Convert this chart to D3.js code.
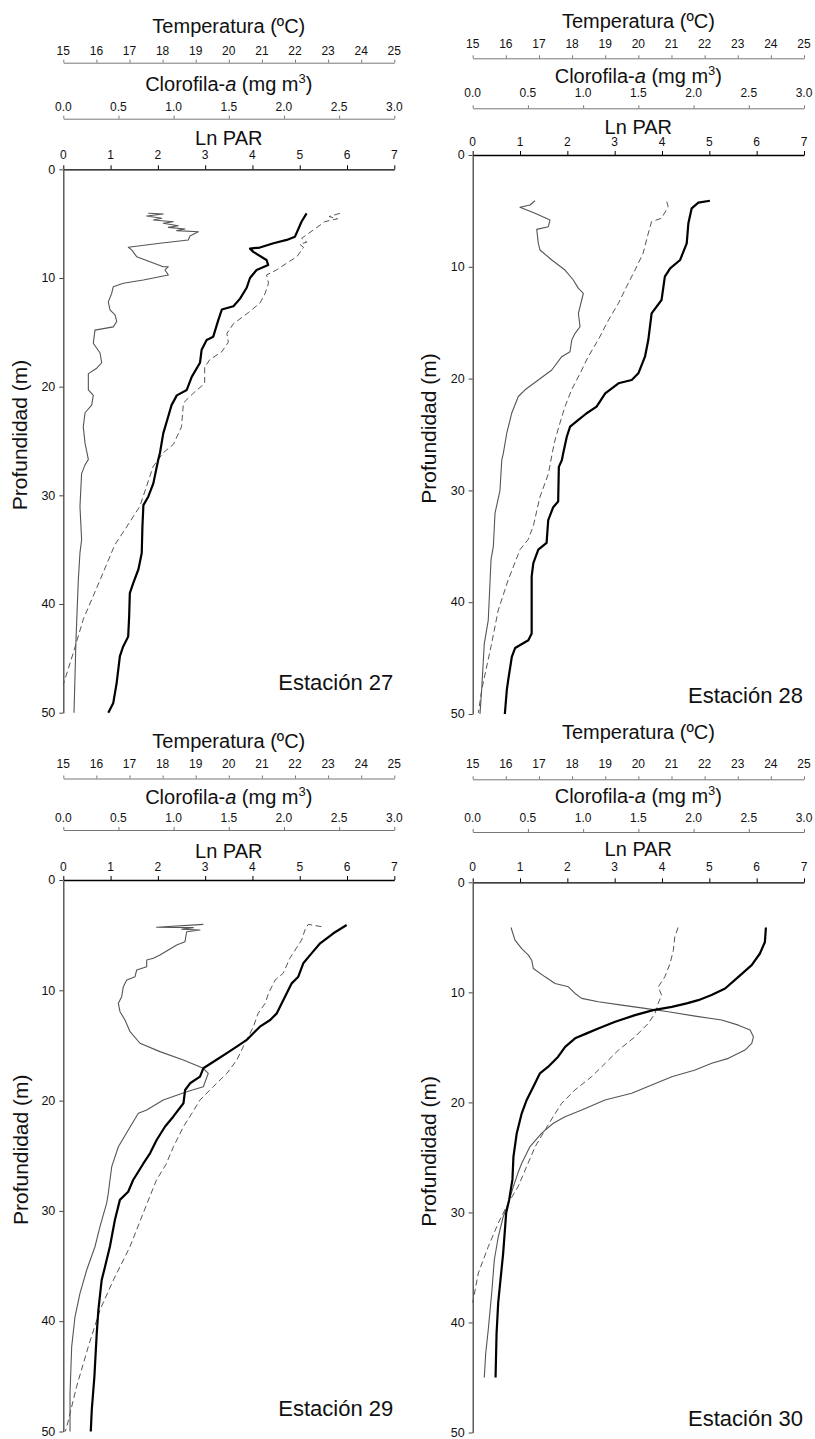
<!DOCTYPE html>
<html><head><meta charset="utf-8">
<script src="https://cdn.jsdelivr.net/npm/d3@7"></script>
<style>
body{margin:0;background:#fff}
svg{display:block}
text{font-family:"Liberation Sans",Arial,Helvetica,sans-serif;fill:#111}
</style>
</head><body><svg id="c" width="815" height="1439"></svg>
<script>
// ---------- tick labels ----------
const tempTicks = [15,16,17,18,19,20,21,22,23,24,25];
const chlTicks = [0,0.5,1,1.5,2,2.5,3];
const chlTickLabels = ["0.0","0.5","1.0","1.5","2.0","2.5","3.0"];
const parTicks = [0,1,2,3,4,5,6,7];
const depthTicks = [0,10,20,30,40,50];
const stationNames = ["Estación 27","Estación 28","Estación 29","Estación 30"];

// ---------- data: [value, depth m] ----------
const temp27 = [[22.35,4.05],[22.2,4.8],[22.0,6.2],[21.75,6.5],[21.35,6.8],[20.94,7.2],[20.64,7.3],[20.74,7.6],[21.14,8.35],[21.19,8.8],[20.84,9.26],[20.64,10.0],[20.54,10.9],[20.34,11.9],[20.14,12.6],[19.79,12.9],[19.68,13.9],[19.53,15.4],[19.33,15.7],[19.18,16.6],[19.13,17.8],[18.88,19.1],[18.73,20.3],[18.43,20.8],[18.27,21.7],[18.17,22.75],[18.02,24.3],[17.92,26.1],[17.87,26.7],[17.72,28.9],[17.57,30.1],[17.42,30.9],[17.39,32.9],[17.37,35.3],[17.27,36.8],[17.11,38.1],[17.01,39.0],[16.99,41.1],[16.96,43.0],[16.81,43.9],[16.71,44.8],[16.61,47.3],[16.51,49.1],[16.36,50.0]];
const chl27 = [[0.77,4.05],[0.906,4.11],[0.756,4.29],[0.892,4.51],[0.816,4.66],[0.997,4.82],[0.906,4.97],[1.042,5.19],[0.952,5.34],[1.103,5.49],[1.028,5.64],[1.224,5.74],[1.148,6.13],[1.133,6.5],[0.876,6.8],[0.589,7.17],[0.62,7.42],[0.665,8.04],[0.906,8.96],[0.952,8.96],[0.922,9.26],[0.952,9.72],[0.725,10.18],[0.544,10.49],[0.453,10.8],[0.439,11.4],[0.408,12.2],[0.423,12.94],[0.469,13.4],[0.484,14.0],[0.453,14.5],[0.287,14.8],[0.272,16.0],[0.333,16.9],[0.348,17.8],[0.303,18.3],[0.227,18.8],[0.227,20.3],[0.272,20.8],[0.257,21.7],[0.197,22.4],[0.181,23.7],[0.197,25.2],[0.227,26.7],[0.197,27.2],[0.166,28.0],[0.151,31.0],[0.166,34.1],[0.151,35.3],[0.136,37.8],[0.115,43.3],[0.097,50.0]];
const par27 = [[5.85,4.05],[5.62,4.35],[5.8,4.55],[5.53,4.82],[5.29,5.58],[5.04,6.35],[5.15,6.7],[5.0,6.9],[5.08,7.17],[4.94,8.04],[4.72,8.65],[4.51,9.26],[4.3,9.72],[4.34,10.49],[4.27,11.4],[4.16,12.3],[3.91,13.2],[3.6,14.2],[3.46,15.1],[3.49,15.9],[3.35,16.8],[3.1,17.5],[2.99,18.2],[2.99,19.7],[2.75,20.6],[2.54,21.5],[2.5,23.7],[2.33,25.3],[2.11,26.1],[1.9,27.35],[1.62,31.0],[1.34,32.9],[1.09,34.55],[0.776,37.8],[0.423,41.4],[0.211,44.5],[0.0,47.4]];

const temp28 = [[22.16,4.09],[21.81,4.26],[21.61,4.77],[21.51,6.11],[21.46,7.9],[21.26,9.39],[20.96,10.14],[20.8,10.88],[20.7,12.97],[20.4,14.16],[20.3,16.55],[20.2,18.04],[20.0,19.53],[19.8,20.12],[19.4,20.42],[19.0,21.32],[18.74,22.51],[18.44,23.1],[18.19,23.7],[17.94,24.3],[17.84,25.2],[17.73,26.7],[17.69,27.3],[17.6,27.9],[17.58,31.0],[17.43,31.5],[17.28,32.65],[17.23,34.7],[16.98,35.3],[16.83,36.5],[16.78,37.7],[16.78,42.8],[16.68,43.4],[16.28,44.1],[16.18,44.9],[16.07,47.0],[16.03,47.85],[15.97,50.0]];
const chl28 = [[0.564,4.09],[0.519,4.47],[0.428,4.68],[0.564,5.22],[0.7,5.81],[0.685,6.41],[0.58,6.65],[0.594,7.9],[0.61,8.5],[0.716,9.39],[0.836,10.29],[0.911,11.18],[0.957,11.93],[1.002,12.37],[0.987,12.97],[0.957,14.16],[0.972,15.36],[0.927,15.95],[0.897,16.55],[0.881,17.6],[0.806,18.04],[0.716,19.23],[0.594,20.12],[0.474,21.0],[0.413,21.6],[0.353,23.1],[0.308,24.9],[0.277,26.7],[0.263,27.3],[0.247,30.0],[0.202,32.05],[0.187,35.0],[0.166,36.2],[0.141,41.6],[0.105,43.7],[0.082,47.7],[0.066,50.0]];
const par28 = [[4.1,4.17],[4.13,4.62],[3.99,5.66],[3.78,5.96],[3.71,7.0],[3.6,8.8],[3.43,10.29],[3.25,11.78],[3.08,13.26],[2.87,14.76],[2.65,16.55],[2.44,18.04],[2.27,19.53],[2.09,21.0],[1.95,22.5],[1.82,24.3],[1.72,25.8],[1.6,28.5],[1.42,30.6],[1.28,33.2],[1.17,34.4],[1.0,35.3],[0.75,38.0],[0.54,40.7],[0.4,43.7],[0.19,47.85],[0.12,49.9]];

const temp29 = [[23.56,4.08],[23.16,4.83],[22.76,5.74],[22.5,6.65],[22.25,7.55],[22.1,8.77],[21.9,9.37],[21.75,10.27],[21.6,11.18],[21.45,12.09],[21.25,12.69],[20.94,13.3],[20.74,13.9],[20.54,14.5],[20.24,15.1],[19.94,15.7],[19.63,16.3],[19.23,17.07],[19.13,17.83],[18.83,18.43],[18.68,19.04],[18.63,20.24],[18.32,21.46],[18.07,22.37],[17.82,23.57],[17.62,24.78],[17.42,25.7],[17.11,27.2],[16.96,28.26],[16.71,29.0],[16.56,30.8],[16.41,33.2],[16.26,35.06],[16.16,36.26],[16.06,38.98],[16.01,41.1],[15.94,45.0],[15.86,48.05],[15.83,50.0]];
const chl29 = [[1.269,4.02],[0.846,4.29],[1.178,4.32],[1.073,4.47],[1.239,4.53],[1.118,4.69],[1.103,5.59],[1.028,5.89],[0.952,6.35],[0.876,6.8],[0.816,7.1],[0.756,7.25],[0.756,7.86],[0.665,8.16],[0.65,8.77],[0.575,9.07],[0.544,9.67],[0.529,10.58],[0.499,11.18],[0.514,11.94],[0.559,12.69],[0.605,13.75],[0.695,14.8],[0.876,15.56],[1.088,16.32],[1.269,17.07],[1.314,17.53],[1.269,18.74],[1.118,19.19],[0.906,19.95],[0.756,20.85],[0.68,21.15],[0.589,22.67],[0.499,24.18],[0.439,25.99],[0.423,27.2],[0.408,28.4],[0.393,29.3],[0.333,31.4],[0.287,33.25],[0.212,35.36],[0.151,37.47],[0.106,39.6],[0.076,42.3],[0.061,46.5],[0.061,50.0]];
const par29 = [[5.46,4.23],[5.18,4.02],[5.11,4.53],[5.04,5.44],[4.79,7.1],[4.65,8.46],[4.48,9.07],[4.34,10.27],[4.27,11.18],[4.12,12.09],[4.02,13.3],[3.84,14.8],[3.67,16.32],[3.46,17.53],[3.17,18.74],[2.89,19.95],[2.72,21.15],[2.54,22.37],[2.33,24.18],[2.17,25.8],[1.97,27.2],[1.69,30.2],[1.41,33.25],[1.06,36.26],[0.776,38.98],[0.529,42.3],[0.283,45.9],[0.072,49.6],[0.04,50.0]];

const temp30 = [[23.85,4.11],[23.82,5.42],[23.67,6.47],[23.42,7.53],[23.02,8.59],[22.62,9.65],[22.21,10.25],[21.81,10.71],[21.46,11.0],[21.01,11.32],[20.45,11.62],[19.9,12.07],[19.3,12.68],[18.79,13.28],[18.44,13.73],[18.09,14.18],[17.79,14.95],[17.58,15.85],[17.28,16.76],[17.03,17.36],[16.83,18.58],[16.63,19.78],[16.48,20.99],[16.33,22.8],[16.23,24.93],[16.2,27.0],[16.1,28.86],[16.01,30.06],[15.92,33.7],[15.82,36.7],[15.77,38.2],[15.72,41.0],[15.69,45.0]];
const chl30 = [[0.347,4.11],[0.383,5.26],[0.444,6.02],[0.504,6.62],[0.534,7.08],[0.549,7.83],[0.655,8.59],[0.746,9.19],[0.866,9.5],[0.927,10.1],[0.987,10.55],[1.138,10.86],[1.35,11.16],[1.561,11.46],[1.772,11.77],[2.014,12.16],[2.255,12.52],[2.406,12.98],[2.512,13.43],[2.542,14.04],[2.527,14.64],[2.466,15.25],[2.315,16.0],[2.165,16.45],[2.014,17.06],[1.803,17.67],[1.621,18.42],[1.44,19.17],[1.198,19.78],[0.987,20.69],[0.836,21.3],[0.73,21.9],[0.625,22.8],[0.519,24.02],[0.444,25.53],[0.41,26.4],[0.368,27.65],[0.323,29.16],[0.277,30.37],[0.232,32.19],[0.196,34.3],[0.172,37.32],[0.141,40.65],[0.118,42.77],[0.105,45.0]];
const par30 = [[4.34,4.11],[4.27,4.96],[4.24,6.17],[4.17,7.38],[4.06,8.59],[3.92,9.5],[3.99,10.25],[3.92,11.0],[3.85,11.92],[3.71,12.82],[3.43,14.04],[3.08,15.25],[2.8,16.45],[2.51,17.67],[2.16,18.87],[1.88,20.08],[1.7,21.3],[1.53,22.5],[1.32,24.02],[1.14,25.83],[0.96,27.65],[0.75,29.16],[0.54,30.97],[0.33,33.1],[0.12,35.5],[0.0,38.2]];

const tempSeries = [temp27, temp28, temp29, temp30];
const chlSeries = [chl27, chl28, chl29, chl30];
const parSeries = [par27, par28, par29, par30];

// ---------- layout (positions only) ----------
const layout = [
  {x0:63.3, x1:394.3, tempTitleY:33, tempLabY:55, tempY:62.7, chlTitleY:90.5, chlLabY:110.5, chlY:118.7, parTitleY:145, parLabY:159, parY:169.3, bottom:712.7, stY:690, ylabX:27},
  {x0:472.7, x1:804, tempTitleY:28, tempLabY:48.3, tempY:58.3, chlTitleY:82.5, chlLabY:97, chlY:108.3, parTitleY:133.5, parLabY:146, parY:155, bottom:714, stY:703, ylabX:436},
  {x0:63.3, x1:394.3, tempTitleY:747.5, tempLabY:768.3, tempY:778.5, chlTitleY:804, chlLabY:821.7, chlY:830, parTitleY:857.5, parLabY:871, parY:880, bottom:1431.5, stY:1416, ylabX:28},
  {x0:472.7, x1:804, tempTitleY:739, tempLabY:768, tempY:779.3, chlTitleY:803, chlLabY:822, chlY:832, parTitleY:856, parLabY:871, parY:882.3, bottom:1432.5, stY:1426, ylabX:436}
];

const svg = d3.select("#c");
svg.append("rect").attr("width",815).attr("height",1439).attr("fill","#fff");

layout.forEach((L, i) => {
  const g = svg.append("g");
  const xT = d3.scaleLinear().domain([15,25]).range([L.x0, L.x1]);
  const xC = d3.scaleLinear().domain([0,3]).range([L.x0, L.x1]);
  const xP = d3.scaleLinear().domain([0,7]).range([L.x0, L.x1]);
  const y = d3.scaleLinear().domain([0,50]).range([L.parY, L.bottom]);
  const cx = (L.x0 + L.x1) / 2;

  // Temperature axis
  const aT = g.append("g").attr("transform",`translate(0,${L.tempY})`)
    .call(d3.axisTop(xT).tickValues(tempTicks).tickSize(3).tickSizeOuter(0).tickFormat(""));
  aT.select(".domain").attr("stroke","#777").attr("stroke-width",1);
  aT.selectAll(".tick line").attr("stroke","#777");
  g.selectAll(null).data(tempTicks).enter().append("text")
    .attr("x", d => xT(d)).attr("y", L.tempLabY).attr("text-anchor","middle")
    .attr("font-size",12).text(d => d);
  g.append("text").attr("x",cx).attr("y",L.tempTitleY).attr("text-anchor","middle")
    .attr("font-size",20).text("Temperatura (ºC)");

  // Chlorophyll axis
  const aC = g.append("g").attr("transform",`translate(0,${L.chlY})`)
    .call(d3.axisTop(xC).tickValues(chlTicks).tickSize(3).tickSizeOuter(0).tickFormat(""));
  aC.select(".domain").attr("stroke","#777").attr("stroke-width",1);
  aC.selectAll(".tick line").attr("stroke","#777");
  g.selectAll(null).data(chlTicks).enter().append("text")
    .attr("x", d => xC(d)).attr("y", L.chlLabY).attr("text-anchor","middle")
    .attr("font-size",12).text((d,k) => chlTickLabels[k]);
  const ct = g.append("text").attr("x",cx).attr("y",L.chlTitleY).attr("text-anchor","middle").attr("font-size",20);
  ct.append("tspan").text("Clorofila-");
  ct.append("tspan").attr("font-style","italic").text("a");
  ct.append("tspan").text(" (mg m");
  ct.append("tspan").attr("font-size",13).attr("dy",-8).text("3");
  ct.append("tspan").attr("dy",8).text(")");

  // Ln PAR axis
  const aP = g.append("g").attr("transform",`translate(0,${L.parY})`)
    .call(d3.axisTop(xP).tickValues(parTicks).tickSize(4).tickSizeOuter(0).tickFormat(""));
  aP.select(".domain").attr("stroke","#000").attr("stroke-width",1.3);
  aP.selectAll(".tick line").attr("stroke","#000");
  g.selectAll(null).data(parTicks).enter().append("text")
    .attr("x", d => xP(d)).attr("y", L.parLabY).attr("text-anchor","middle")
    .attr("font-size",12).text(d => d);
  g.append("text").attr("x",cx).attr("y",L.parTitleY).attr("text-anchor","middle")
    .attr("font-size",20).text("Ln PAR");

  // Depth axis
  const aY = g.append("g").attr("transform",`translate(${L.x0},0)`)
    .call(d3.axisLeft(y).tickValues(depthTicks).tickSize(4).tickSizeOuter(0).tickPadding(4));
  aY.select(".domain").attr("stroke","#444").attr("stroke-width",1.3);
  aY.selectAll(".tick line").attr("stroke","#444");
  aY.selectAll(".tick text").attr("font-size",12.5).attr("fill","#111").attr("dy","0.3em")
    .attr("font-family","'Liberation Sans',Arial,sans-serif");
  g.append("text").attr("transform",`translate(${L.ylabX},${(L.parY+L.bottom)/2 - 6}) rotate(-90)`)
    .attr("text-anchor","middle").attr("font-size",21).text("Profundidad (m)");

  // Lines
  const lineT = d3.line().x(d => xT(d[0])).y(d => y(d[1]));
  const lineC = d3.line().x(d => xC(d[0])).y(d => y(d[1]));
  const lineP = d3.line().x(d => xP(d[0])).y(d => y(d[1]));
  g.append("path").datum(parSeries[i]).attr("d",lineP).attr("fill","none")
    .attr("stroke","#555").attr("stroke-width",1).attr("stroke-dasharray","6,3.5");
  g.append("path").datum(chlSeries[i]).attr("d",lineC).attr("fill","none")
    .attr("stroke","#555").attr("stroke-width",1.1).attr("stroke-linejoin","round");
  g.append("path").datum(tempSeries[i]).attr("d",lineT).attr("fill","none")
    .attr("stroke","#000").attr("stroke-width",2.2).attr("stroke-linejoin","round");

  // Station label
  g.append("text").attr("x",L.x1 - 1).attr("y",L.stY).attr("text-anchor","end")
    .attr("font-size",22).text(stationNames[i]);
});
</script>
</body></html>
